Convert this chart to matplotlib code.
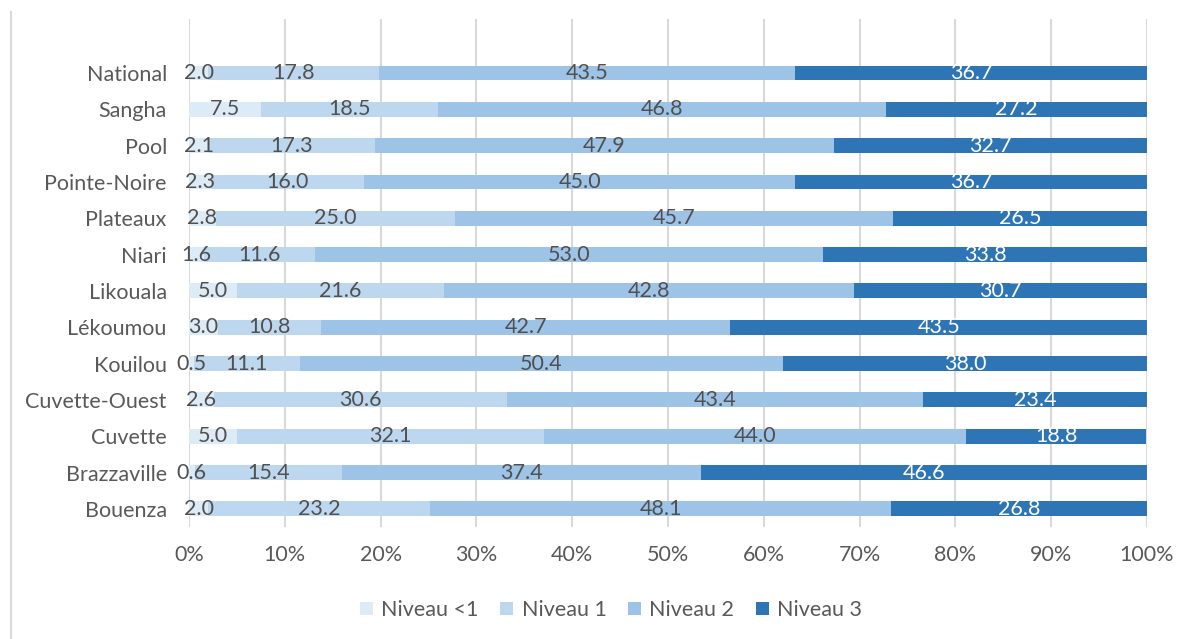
import matplotlib
matplotlib.use("Agg")
import matplotlib.pyplot as plt
from matplotlib.lines import Line2D
import numpy as np

plt.rcParams['font.family'] = ['Lato', 'DejaVu Sans']

regions = ["National", "Sangha", "Pool", "Pointe-Noire", "Plateaux", "Niari",
           "Likouala", "Lékoumou", "Kouilou", "Cuvette-Ouest", "Cuvette",
           "Brazzaville", "Bouenza"]
niveau_lt1 = [2.0, 7.5, 2.1, 2.3, 2.8, 1.6, 5.0, 3.0, 0.5, 2.6, 5.0, 0.6, 2.0]
niveau_1 = [17.8, 18.5, 17.3, 16.0, 25.0, 11.6, 21.6, 10.8, 11.1, 30.6, 32.1, 15.4, 23.2]
niveau_2 = [43.5, 46.8, 47.9, 45.0, 45.7, 53.0, 42.8, 42.7, 50.4, 43.4, 44.0, 37.4, 48.1]
niveau_3 = [36.7, 27.2, 32.7, 36.7, 26.5, 33.8, 30.7, 43.5, 38.0, 23.4, 18.8, 46.6, 26.8]

series_names = ["Niveau <1", "Niveau 1", "Niveau 2", "Niveau 3"]
series = [niveau_lt1, niveau_1, niveau_2, niveau_3]
colors = ["#DDEBF7", "#BDD7EE", "#9DC3E6", "#2E75B6"]
label_colors = ["#505050", "#505050", "#505050", "#FFFFFF"]

fig = plt.figure(figsize=(11.89, 6.39), dpi=100)
ax = fig.add_axes([189 / 1189, 1 - 527 / 639, (1147 - 189) / 1189, (527 - 18.5) / 639])

n = len(regions)
ypos = np.arange(n)[::-1]
left = np.zeros(n)
handles = []
for vals, name, col, lcol in zip(series, series_names, colors, label_colors):
    v = np.array(vals) / 100.0
    bars = ax.barh(ypos, v, left=left, height=0.41, color=col, label=name, zorder=2)
    for y, l, w, raw in zip(ypos, left, v, vals):
        ax.text(l + w / 2, y, f"{raw:.1f}", ha="center", va="center",
                color=lcol, fontsize=15.5, zorder=3)
    left = left + v
    handles.append(bars)

ax.set_xlim(0, 1)
ax.set_ylim(-0.5, 13.5)
ax.set_yticks(ypos)
ax.set_yticklabels(regions)
ax.set_xticks(np.linspace(0, 1, 11))
ax.set_xticklabels([f"{int(t)}%" for t in np.linspace(0, 100, 11)])
ax.tick_params(axis="both", length=0, labelsize=15.5, labelcolor="#595959")
ax.tick_params(axis="y", pad=16)
ax.tick_params(axis="x", pad=13)
ax.grid(axis="x", color="#D9D9D9", linewidth=1.5, zorder=0)
ax.set_axisbelow(True)
for s in ax.spines.values():
    s.set_visible(False)

leg = fig.legend(handles=handles, labels=series_names, loc="center",
                 bbox_to_anchor=(611 / 1189, 1 - 610 / 639), ncol=4, frameon=False,
                 fontsize=15.5, handlelength=0.6, handleheight=0.6, columnspacing=1.0,
                 handletextpad=0.4)
for t in leg.get_texts():
    t.set_color("#595959")

fig.add_artist(Line2D([11 / 1189, 11 / 1189], [0, 1 - 12 / 639], color="#D9D9D9",
                      linewidth=1.5, transform=fig.transFigure))

fig.savefig("out.png", dpi=100, facecolor="white")
